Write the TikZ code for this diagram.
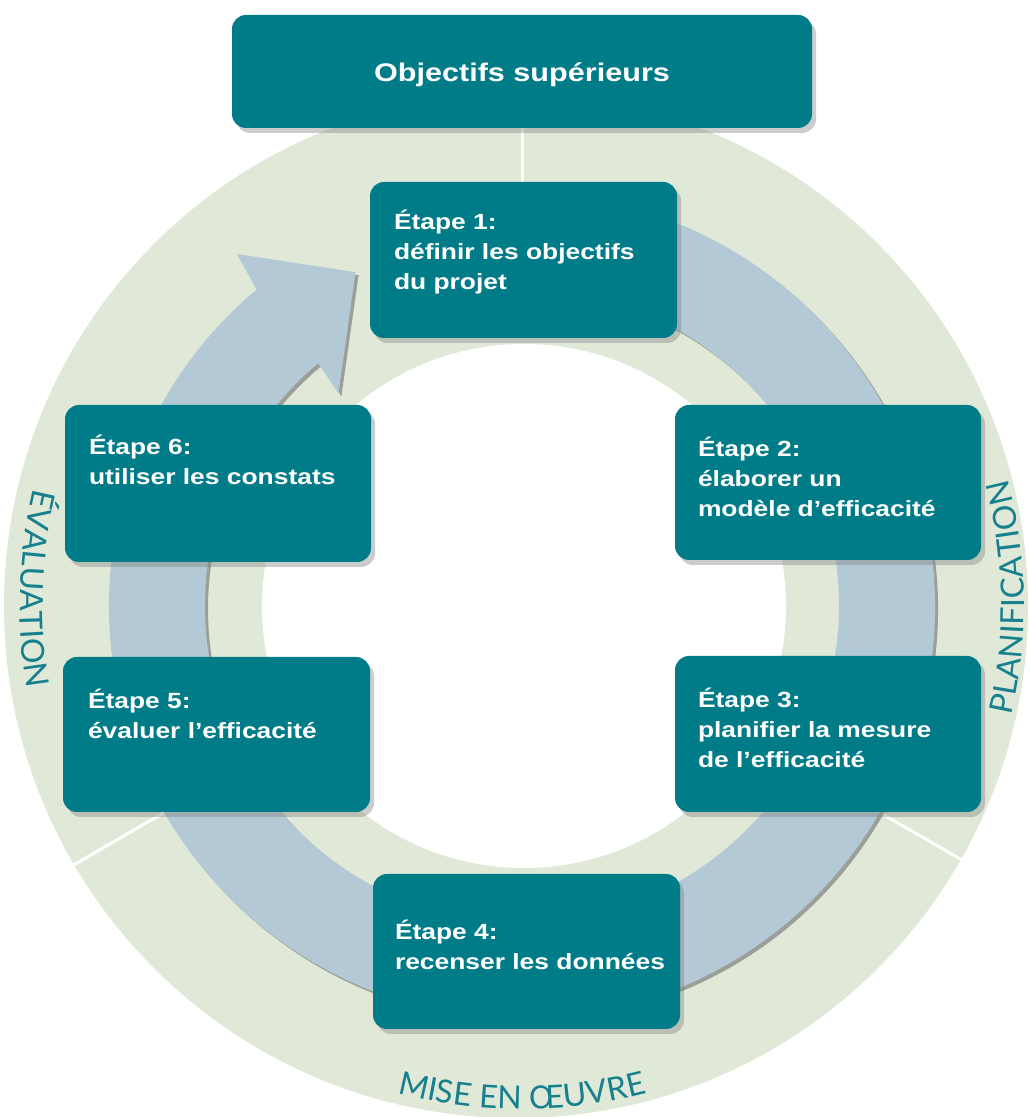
\documentclass[tikz,border=0pt]{standalone}
\usepackage{fontspec}
\setmainfont{Liberation Sans}
\newfontfamily\boxfont{Liberation Sans}[FakeStretch=1.2]
\newfontfamily\ringfont{Lato}
\usetikzlibrary{shadows,decorations.text}
\definecolor{boxteal}{RGB}{0,124,137}
\definecolor{ringgreen}{RGB}{224,233,215}
\definecolor{bandblue}{RGB}{179,201,213}
\definecolor{labelteal}{RGB}{22,128,142}
\tikzset{
  stepbox/.style={fill=boxteal, rounded corners=14pt, minimum width=306pt, minimum height=155pt, inner sep=0pt,
    drop shadow={shadow xshift=4pt, shadow yshift=-5pt, opacity=0.4}},
  titlebox/.style={fill=boxteal, rounded corners=14pt, minimum width=580pt, minimum height=113pt, inner sep=0pt,
    drop shadow={shadow xshift=4pt, shadow yshift=-5pt, opacity=0.4}},
  steptext/.style={text=white, inner sep=0pt, anchor=base west, text width=290pt, align=left,
    font=\boxfont\bfseries\fontsize{22}{30}\selectfont},
  titletext/.style={text=white, inner sep=0pt, anchor=base, font=\boxfont\bfseries\fontsize{25.5}{30}\selectfont},
  ringlabel/.style={decorate, decoration={text along path, text align=center,
    text={|\ringfont\fontsize{32}{32}\selectfont\color{labelteal}|#1}}},
  divider/.style={draw=white, line width=3pt}
}
\begin{document}
\begin{tikzpicture}[x=1pt,y=1pt]
\useasboundingbox (0,0) rectangle (1030,1117);
\clip (0,0) rectangle (1030,1117);
\fill[white] (0,0) rectangle (1030,1117);
\coordinate (C) at (522,511);
\coordinate (G) at (516,511);
% green ring and white centre
\fill[ringgreen] (G) circle[radius=512];
\fill[white] (524,511) circle[radius=262];
% dividers
\begin{scope}[shift={(C)}]
  \foreach \a in {90,210,330} \draw[divider] (\a:390) -- (\a:530);
\end{scope}
% blue circular arrow
\begin{scope}[shift={(C)}]
  \fill[bandblue, drop shadow={shadow xshift=3pt, shadow yshift=-3pt, opacity=0.7}]
    (100:413) arc[start angle=100, end angle=-230, radius=413]
    -- (129:453) -- (116.5:373) -- (130.8:281) -- (130:317)
    arc[start angle=130, end angle=460, radius=317] -- cycle;
\end{scope}
% ring labels
\begin{scope}[shift={(C)}]
  \path[ringlabel={PLANIFICATION}] (-30:502) arc[start angle=-30, end angle=32, radius=502];
  \path[ringlabel={ÉVALUATION}] (148:502) arc[start angle=148, end angle=208, radius=502];
  \path[ringlabel={MISE EN ŒUVRE}] (240:503) arc[start angle=240, end angle=300, radius=503];
\end{scope}
% boxes
\node[titlebox] (top) at (522,1045.5) {};
\node[titletext] (tt) at (522,1035) {Objectifs supérieurs};
\node[stepbox, minimum width=307pt, minimum height=156pt] (s1) at (523.5,857) {};
\node[stepbox] (s2) at (828,634.5) {};
\node[stepbox, minimum height=156pt] (s3) at (828,383) {};
\node[stepbox, minimum width=307pt] (s4) at (526.5,165.5) {};
\node[stepbox, minimum width=307pt] (s5) at (216.5,382.5) {};
\node[stepbox, minimum height=157pt] (s6) at (218,633.5) {};
% texts
\node[steptext] (t1) at ([xshift=24pt,yshift=-48pt]s1.north west) {Étape 1:\\définir les objectifs\\du projet};
\node[steptext] (t2) at ([xshift=23pt,yshift=-52pt]s2.north west) {Étape 2:\\élaborer un\\modèle d’efficacité};
\node[steptext] (t3) at ([xshift=23pt,yshift=-52pt]s3.north west) {Étape 3:\\planifier la mesure\\de l’efficacité};
\node[steptext] (t4) at ([xshift=22pt,yshift=-66pt]s4.north west) {Étape 4:\\recenser les données};
\node[steptext] (t5) at ([xshift=25pt,yshift=-52pt]s5.north west) {Étape 5:\\évaluer l’efficacité};
\node[steptext] (t6) at ([xshift=24pt,yshift=-50pt]s6.north west) {Étape 6:\\utiliser les constats};
\end{tikzpicture}
\end{document}
